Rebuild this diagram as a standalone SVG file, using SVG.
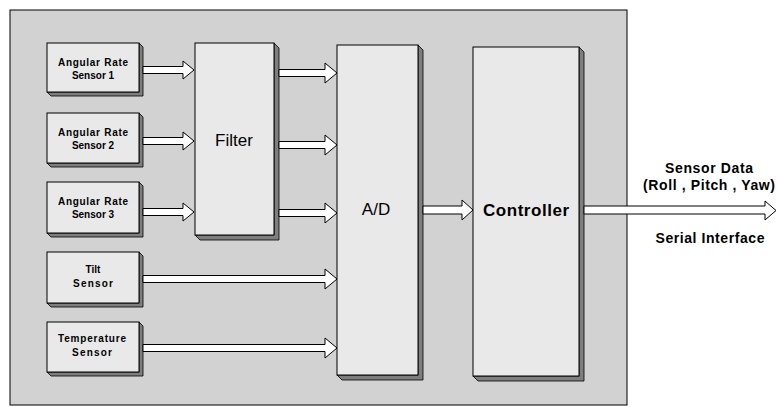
<svg xmlns="http://www.w3.org/2000/svg" width="777" height="407" viewBox="0 0 777 407">
<style>
.frame{fill:#d2d2d2;stroke:#000;stroke-width:1}
.box{fill:#e9e9e9;stroke:#000;stroke-width:1}
.bevel{fill:#7e7e7e;stroke:#000;stroke-width:0.8}
.arrow{fill:#ffffff;stroke:#000;stroke-width:1}
.small{font-family:"Liberation Sans",Arial,sans-serif;font-weight:bold;font-size:10px;text-anchor:middle;fill:#000}
.big{font-family:"Liberation Sans",Arial,sans-serif;font-size:17px;text-anchor:middle;fill:#000}
.bigb{font-family:"Liberation Sans",Arial,sans-serif;font-weight:bold;font-size:17px;text-anchor:middle;fill:#000}
.out{font-family:"Liberation Sans",Arial,sans-serif;font-weight:bold;font-size:14px;text-anchor:middle;fill:#000}
</style>
<rect width="777" height="407" fill="#ffffff"/>
<rect class="frame" x="10" y="10" width="617" height="395"/>

<g id="sensor1">
<polygon class="bevel" points="139,43 143,47 143,96 51,96 47,92 139,92"/>
<rect class="box" x="47" y="43" width="92" height="49"/>
<text class="small" x="93" y="66" textLength="70" lengthAdjust="spacing">Angular Rate</text>
<text class="small" x="93" y="79">Sensor 1</text>
</g>
<g id="sensor2">
<polygon class="bevel" points="139,113 143,117 143,167 51,167 47,163 139,163"/>
<rect class="box" x="47" y="113" width="92" height="50"/>
<text class="small" x="93" y="136" textLength="70" lengthAdjust="spacing">Angular Rate</text>
<text class="small" x="93" y="149">Sensor 2</text>
</g>
<g id="sensor3">
<polygon class="bevel" points="139,182 143,186 143,237 51,237 47,233 139,233"/>
<rect class="box" x="47" y="182" width="92" height="51"/>
<text class="small" x="93" y="205" textLength="70" lengthAdjust="spacing">Angular Rate</text>
<text class="small" x="93" y="218">Sensor 3</text>
</g>
<g id="tilt">
<polygon class="bevel" points="139,252 143,256 143,307 51,307 47,303 139,303"/>
<rect class="box" x="47" y="252" width="92" height="51"/>
<text class="small" x="93" y="273">Tilt</text>
<text class="small" x="93" y="287" textLength="40" lengthAdjust="spacing">Sensor</text>
</g>
<g id="temperature">
<polygon class="bevel" points="139,322 143,326 143,376 51,376 47,372 139,372"/>
<rect class="box" x="47" y="322" width="92" height="50"/>
<text class="small" x="92" y="342" textLength="68" lengthAdjust="spacing">Temperature</text>
<text class="small" x="92" y="356" textLength="40" lengthAdjust="spacing">Sensor</text>
</g>
<g id="filter">
<polygon class="bevel" points="274,43 279,48 279,240 200,240 195,235 274,235"/>
<rect class="box" x="195" y="43" width="79" height="192"/>
<text class="big" x="234" y="146">Filter</text>
</g>
<g id="ad">
<polygon class="bevel" points="418,45 423,50 423,380 342,380 337,375 418,375"/>
<rect class="box" x="337" y="45" width="81" height="330"/>
<text class="big" x="376" y="215">A/D</text>
</g>
<g id="controller">
<polygon class="bevel" points="579,47 584,52 584,381 478,381 473,376 579,376"/>
<rect class="box" x="473" y="47" width="106" height="329"/>
<text class="bigb" x="526" y="216" textLength="86" lengthAdjust="spacing">Controller</text>
</g>

<g id="connectors">
<polygon class="arrow" points="143,66.5 183,66.5 183,61 194,70 183,79 183,73.5 143,73.5"/>
<polygon class="arrow" points="143,137.5 183,137.5 183,132 194,141 183,150 183,144.5 143,144.5"/>
<polygon class="arrow" points="143,208.5 183,208.5 183,203 194,212 183,221 183,215.5 143,215.5"/>
<polygon class="arrow" points="279,69.5 325,69.5 325,63 337,73 325,83 325,76.5 279,76.5"/>
<polygon class="arrow" points="279,141.5 325,141.5 325,135 337,145 325,155 325,148.5 279,148.5"/>
<polygon class="arrow" points="279,209.5 325,209.5 325,203 337,213 325,223 325,216.5 279,216.5"/>
<polygon class="arrow" points="143,275.5 325,275.5 325,269 337,279 325,289 325,282.5 143,282.5"/>
<polygon class="arrow" points="143,344.5 325,344.5 325,338 337,348 325,358 325,351.5 143,351.5"/>
<polygon class="arrow" points="423,206 462,206 462,200 473,210 462,220 462,214 423,214"/>
<polygon class="arrow" points="584,206 765,206 765,201 776,210.5 765,220 765,214 584,214"/>
</g>

<g id="labels">
<text class="out" x="709" y="173" textLength="88" lengthAdjust="spacing">Sensor Data</text>
<text class="out" x="709" y="190" textLength="132" lengthAdjust="spacing">(Roll , Pitch , Yaw)</text>
<text class="out" x="710" y="243" textLength="109" lengthAdjust="spacing">Serial Interface</text>
</g>
</svg>
